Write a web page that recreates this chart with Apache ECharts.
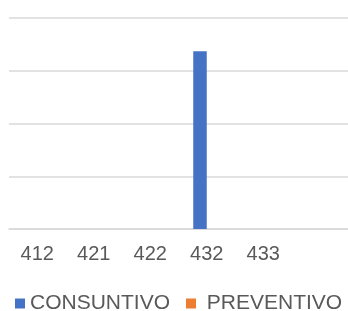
<!DOCTYPE html>
<html>
<head>
<meta charset="utf-8">
<script src="https://cdn.jsdelivr.net/npm/echarts@6/dist/echarts.min.js"></script>
<style>
  html, body { margin: 0; padding: 0; background: #fff; }
  #main { width: 348px; height: 311px; }
</style>
</head>
<body>
<div id="main"></div>
<script>
// dati
var categorie = ['412', '421', '422', '432', '433', ''];
var consuntivo = [0, 0, 0, 3.37, 0, 0];
var preventivo = [0, 0, 0, 0, 0, 0];
var yMax = 4;
var yStep = 1;

var myChart = echarts.init(document.getElementById('main'));
myChart.setOption({
    animation: false,
    grid: { left: 9, right: 0, top: 18, bottom: 82, containLabel: false },
    legend: {
        data: ['CONSUNTIVO', ' PREVENTIVO'],
        left: 15,
        top: 293,
        width: 345,
        padding: 0,
        icon: 'rect',
        itemWidth: 10,
        itemHeight: 10,
        itemGap: 16,
        textStyle: { fontFamily: 'Liberation Sans', fontSize: 21, color: '#595959' }
    },
    xAxis: {
        type: 'category',
        data: categorie,
        axisLine: { lineStyle: { color: '#d9d9d9', width: 1.5 } },
        axisTick: { show: false },
        axisLabel: { fontFamily: 'Liberation Sans', fontSize: 20, color: '#595959', margin: 15 }
    },
    yAxis: {
        type: 'value',
        min: 0,
        max: yMax,
        interval: yStep,
        axisLabel: { show: false },
        axisLine: { show: false },
        axisTick: { show: false },
        splitLine: { lineStyle: { color: '#d9d9d9', width: 1.5 } }
    },
    series: [
        {
            name: 'CONSUNTIVO',
            type: 'bar',
            data: consuntivo,
            barWidth: 13.5,
            barGap: '0%',
            itemStyle: { color: '#4472C4' }
        },
        {
            name: ' PREVENTIVO',
            type: 'bar',
            data: preventivo,
            barWidth: 13.5,
            itemStyle: { color: '#ED7D31' }
        }
    ]
});
</script>
</body>
</html>
